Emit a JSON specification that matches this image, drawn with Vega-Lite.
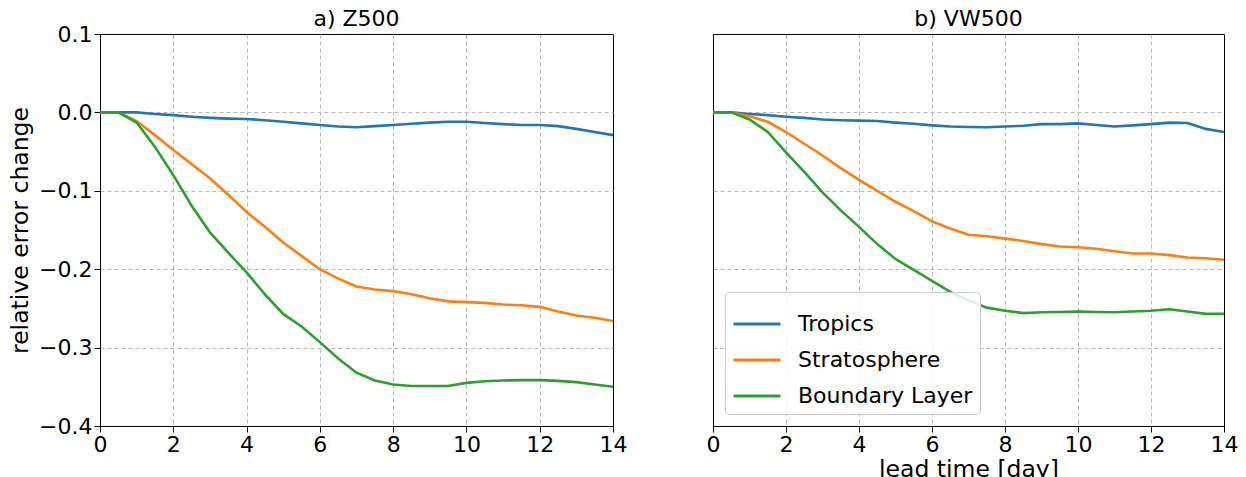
{
  "$schema": "https://vega.github.io/schema/vega-lite/v6.json",
  "padding": {"left": 8, "top": 7, "right": 5, "bottom": 0},
  "background": "white",
  "config": {
    "font": "DejaVu Sans",
    "view": {"stroke": "black", "strokeWidth": 1},
    "axis": {
      "domainColor": "black",
      "tickColor": "black",
      "tickSize": 6,
      "labelColor": "black",
      "titleColor": "black",
      "labelFontSize": 22,
      "titleFontSize": 23.5,
      "titleFontWeight": "normal",
      "gridColor": "#b0b0b0",
      "gridDash": [4, 3],
      "gridWidth": 0.9
    },
    "title": {"fontSize": 22, "fontWeight": "normal", "color": "black"},
    "concat": {"spacing": 77}
  },
  "data": {
    "values": [
      {"panel": "Z500", "series": "Tropics", "day": 0, "value": 0},
      {"panel": "Z500", "series": "Tropics", "day": 0.5, "value": 0},
      {"panel": "Z500", "series": "Tropics", "day": 1, "value": 0},
      {"panel": "Z500", "series": "Tropics", "day": 1.5, "value": -0.002},
      {"panel": "Z500", "series": "Tropics", "day": 2, "value": -0.0035},
      {"panel": "Z500", "series": "Tropics", "day": 2.5, "value": -0.0055},
      {"panel": "Z500", "series": "Tropics", "day": 3, "value": -0.007},
      {"panel": "Z500", "series": "Tropics", "day": 3.5, "value": -0.008},
      {"panel": "Z500", "series": "Tropics", "day": 4, "value": -0.0085},
      {"panel": "Z500", "series": "Tropics", "day": 4.5, "value": -0.01},
      {"panel": "Z500", "series": "Tropics", "day": 5, "value": -0.012},
      {"panel": "Z500", "series": "Tropics", "day": 5.5, "value": -0.014},
      {"panel": "Z500", "series": "Tropics", "day": 6, "value": -0.016},
      {"panel": "Z500", "series": "Tropics", "day": 6.5, "value": -0.018},
      {"panel": "Z500", "series": "Tropics", "day": 7, "value": -0.019},
      {"panel": "Z500", "series": "Tropics", "day": 7.5, "value": -0.0175},
      {"panel": "Z500", "series": "Tropics", "day": 8, "value": -0.016},
      {"panel": "Z500", "series": "Tropics", "day": 8.5, "value": -0.0145},
      {"panel": "Z500", "series": "Tropics", "day": 9, "value": -0.013},
      {"panel": "Z500", "series": "Tropics", "day": 9.5, "value": -0.012},
      {"panel": "Z500", "series": "Tropics", "day": 10, "value": -0.012},
      {"panel": "Z500", "series": "Tropics", "day": 10.5, "value": -0.0135},
      {"panel": "Z500", "series": "Tropics", "day": 11, "value": -0.015},
      {"panel": "Z500", "series": "Tropics", "day": 11.5, "value": -0.016},
      {"panel": "Z500", "series": "Tropics", "day": 12, "value": -0.016},
      {"panel": "Z500", "series": "Tropics", "day": 12.5, "value": -0.0175},
      {"panel": "Z500", "series": "Tropics", "day": 13, "value": -0.021},
      {"panel": "Z500", "series": "Tropics", "day": 13.5, "value": -0.025},
      {"panel": "Z500", "series": "Tropics", "day": 14, "value": -0.029},
      {"panel": "Z500", "series": "Stratosphere", "day": 0, "value": 0},
      {"panel": "Z500", "series": "Stratosphere", "day": 0.5, "value": 0},
      {"panel": "Z500", "series": "Stratosphere", "day": 1, "value": -0.011},
      {"panel": "Z500", "series": "Stratosphere", "day": 1.5, "value": -0.029},
      {"panel": "Z500", "series": "Stratosphere", "day": 2, "value": -0.048},
      {"panel": "Z500", "series": "Stratosphere", "day": 2.5, "value": -0.066},
      {"panel": "Z500", "series": "Stratosphere", "day": 3, "value": -0.084},
      {"panel": "Z500", "series": "Stratosphere", "day": 3.5, "value": -0.105},
      {"panel": "Z500", "series": "Stratosphere", "day": 4, "value": -0.127},
      {"panel": "Z500", "series": "Stratosphere", "day": 4.5, "value": -0.146},
      {"panel": "Z500", "series": "Stratosphere", "day": 5, "value": -0.166},
      {"panel": "Z500", "series": "Stratosphere", "day": 5.5, "value": -0.183},
      {"panel": "Z500", "series": "Stratosphere", "day": 6, "value": -0.2},
      {"panel": "Z500", "series": "Stratosphere", "day": 6.5, "value": -0.212},
      {"panel": "Z500", "series": "Stratosphere", "day": 7, "value": -0.222},
      {"panel": "Z500", "series": "Stratosphere", "day": 7.5, "value": -0.226},
      {"panel": "Z500", "series": "Stratosphere", "day": 8, "value": -0.228},
      {"panel": "Z500", "series": "Stratosphere", "day": 8.5, "value": -0.232},
      {"panel": "Z500", "series": "Stratosphere", "day": 9, "value": -0.237},
      {"panel": "Z500", "series": "Stratosphere", "day": 9.5, "value": -0.241},
      {"panel": "Z500", "series": "Stratosphere", "day": 10, "value": -0.242},
      {"panel": "Z500", "series": "Stratosphere", "day": 10.5, "value": -0.243},
      {"panel": "Z500", "series": "Stratosphere", "day": 11, "value": -0.245},
      {"panel": "Z500", "series": "Stratosphere", "day": 11.5, "value": -0.246},
      {"panel": "Z500", "series": "Stratosphere", "day": 12, "value": -0.248},
      {"panel": "Z500", "series": "Stratosphere", "day": 12.5, "value": -0.254},
      {"panel": "Z500", "series": "Stratosphere", "day": 13, "value": -0.259},
      {"panel": "Z500", "series": "Stratosphere", "day": 13.5, "value": -0.262},
      {"panel": "Z500", "series": "Stratosphere", "day": 14, "value": -0.266},
      {"panel": "Z500", "series": "Boundary Layer", "day": 0, "value": 0},
      {"panel": "Z500", "series": "Boundary Layer", "day": 0.5, "value": 0},
      {"panel": "Z500", "series": "Boundary Layer", "day": 1, "value": -0.013},
      {"panel": "Z500", "series": "Boundary Layer", "day": 1.5, "value": -0.044},
      {"panel": "Z500", "series": "Boundary Layer", "day": 2, "value": -0.08},
      {"panel": "Z500", "series": "Boundary Layer", "day": 2.5, "value": -0.119},
      {"panel": "Z500", "series": "Boundary Layer", "day": 3, "value": -0.153},
      {"panel": "Z500", "series": "Boundary Layer", "day": 3.5, "value": -0.179},
      {"panel": "Z500", "series": "Boundary Layer", "day": 4, "value": -0.204},
      {"panel": "Z500", "series": "Boundary Layer", "day": 4.5, "value": -0.232},
      {"panel": "Z500", "series": "Boundary Layer", "day": 5, "value": -0.257},
      {"panel": "Z500", "series": "Boundary Layer", "day": 5.5, "value": -0.273},
      {"panel": "Z500", "series": "Boundary Layer", "day": 6, "value": -0.293},
      {"panel": "Z500", "series": "Boundary Layer", "day": 6.5, "value": -0.314},
      {"panel": "Z500", "series": "Boundary Layer", "day": 7, "value": -0.332},
      {"panel": "Z500", "series": "Boundary Layer", "day": 7.5, "value": -0.342},
      {"panel": "Z500", "series": "Boundary Layer", "day": 8, "value": -0.347},
      {"panel": "Z500", "series": "Boundary Layer", "day": 8.5, "value": -0.349},
      {"panel": "Z500", "series": "Boundary Layer", "day": 9, "value": -0.349},
      {"panel": "Z500", "series": "Boundary Layer", "day": 9.5, "value": -0.349},
      {"panel": "Z500", "series": "Boundary Layer", "day": 10, "value": -0.345},
      {"panel": "Z500", "series": "Boundary Layer", "day": 10.5, "value": -0.343},
      {"panel": "Z500", "series": "Boundary Layer", "day": 11, "value": -0.342},
      {"panel": "Z500", "series": "Boundary Layer", "day": 11.5, "value": -0.3415},
      {"panel": "Z500", "series": "Boundary Layer", "day": 12, "value": -0.3415},
      {"panel": "Z500", "series": "Boundary Layer", "day": 12.5, "value": -0.3425},
      {"panel": "Z500", "series": "Boundary Layer", "day": 13, "value": -0.344},
      {"panel": "Z500", "series": "Boundary Layer", "day": 13.5, "value": -0.347},
      {"panel": "Z500", "series": "Boundary Layer", "day": 14, "value": -0.35},
      {"panel": "VW500", "series": "Tropics", "day": 0, "value": 0},
      {"panel": "VW500", "series": "Tropics", "day": 0.5, "value": 0},
      {"panel": "VW500", "series": "Tropics", "day": 1, "value": -0.002},
      {"panel": "VW500", "series": "Tropics", "day": 1.5, "value": -0.0035},
      {"panel": "VW500", "series": "Tropics", "day": 2, "value": -0.0055},
      {"panel": "VW500", "series": "Tropics", "day": 2.5, "value": -0.007},
      {"panel": "VW500", "series": "Tropics", "day": 3, "value": -0.009},
      {"panel": "VW500", "series": "Tropics", "day": 3.5, "value": -0.01},
      {"panel": "VW500", "series": "Tropics", "day": 4, "value": -0.0105},
      {"panel": "VW500", "series": "Tropics", "day": 4.5, "value": -0.011},
      {"panel": "VW500", "series": "Tropics", "day": 5, "value": -0.013},
      {"panel": "VW500", "series": "Tropics", "day": 5.5, "value": -0.0145},
      {"panel": "VW500", "series": "Tropics", "day": 6, "value": -0.0165},
      {"panel": "VW500", "series": "Tropics", "day": 6.5, "value": -0.018},
      {"panel": "VW500", "series": "Tropics", "day": 7, "value": -0.0187},
      {"panel": "VW500", "series": "Tropics", "day": 7.5, "value": -0.019},
      {"panel": "VW500", "series": "Tropics", "day": 8, "value": -0.018},
      {"panel": "VW500", "series": "Tropics", "day": 8.5, "value": -0.017},
      {"panel": "VW500", "series": "Tropics", "day": 9, "value": -0.015},
      {"panel": "VW500", "series": "Tropics", "day": 9.5, "value": -0.015},
      {"panel": "VW500", "series": "Tropics", "day": 10, "value": -0.014},
      {"panel": "VW500", "series": "Tropics", "day": 10.5, "value": -0.016},
      {"panel": "VW500", "series": "Tropics", "day": 11, "value": -0.018},
      {"panel": "VW500", "series": "Tropics", "day": 11.5, "value": -0.0165},
      {"panel": "VW500", "series": "Tropics", "day": 12, "value": -0.015},
      {"panel": "VW500", "series": "Tropics", "day": 12.5, "value": -0.013},
      {"panel": "VW500", "series": "Tropics", "day": 13, "value": -0.0135},
      {"panel": "VW500", "series": "Tropics", "day": 13.5, "value": -0.021},
      {"panel": "VW500", "series": "Tropics", "day": 14, "value": -0.025},
      {"panel": "VW500", "series": "Stratosphere", "day": 0, "value": 0},
      {"panel": "VW500", "series": "Stratosphere", "day": 0.5, "value": 0},
      {"panel": "VW500", "series": "Stratosphere", "day": 1, "value": -0.005},
      {"panel": "VW500", "series": "Stratosphere", "day": 1.5, "value": -0.012},
      {"panel": "VW500", "series": "Stratosphere", "day": 2, "value": -0.025},
      {"panel": "VW500", "series": "Stratosphere", "day": 2.5, "value": -0.04},
      {"panel": "VW500", "series": "Stratosphere", "day": 3, "value": -0.055},
      {"panel": "VW500", "series": "Stratosphere", "day": 3.5, "value": -0.071},
      {"panel": "VW500", "series": "Stratosphere", "day": 4, "value": -0.086},
      {"panel": "VW500", "series": "Stratosphere", "day": 4.5, "value": -0.1},
      {"panel": "VW500", "series": "Stratosphere", "day": 5, "value": -0.114},
      {"panel": "VW500", "series": "Stratosphere", "day": 5.5, "value": -0.126},
      {"panel": "VW500", "series": "Stratosphere", "day": 6, "value": -0.139},
      {"panel": "VW500", "series": "Stratosphere", "day": 6.5, "value": -0.148},
      {"panel": "VW500", "series": "Stratosphere", "day": 7, "value": -0.156},
      {"panel": "VW500", "series": "Stratosphere", "day": 7.5, "value": -0.158},
      {"panel": "VW500", "series": "Stratosphere", "day": 8, "value": -0.161},
      {"panel": "VW500", "series": "Stratosphere", "day": 8.5, "value": -0.164},
      {"panel": "VW500", "series": "Stratosphere", "day": 9, "value": -0.168},
      {"panel": "VW500", "series": "Stratosphere", "day": 9.5, "value": -0.171},
      {"panel": "VW500", "series": "Stratosphere", "day": 10, "value": -0.172},
      {"panel": "VW500", "series": "Stratosphere", "day": 10.5, "value": -0.174},
      {"panel": "VW500", "series": "Stratosphere", "day": 11, "value": -0.177},
      {"panel": "VW500", "series": "Stratosphere", "day": 11.5, "value": -0.18},
      {"panel": "VW500", "series": "Stratosphere", "day": 12, "value": -0.18},
      {"panel": "VW500", "series": "Stratosphere", "day": 12.5, "value": -0.182},
      {"panel": "VW500", "series": "Stratosphere", "day": 13, "value": -0.185},
      {"panel": "VW500", "series": "Stratosphere", "day": 13.5, "value": -0.186},
      {"panel": "VW500", "series": "Stratosphere", "day": 14, "value": -0.188},
      {"panel": "VW500", "series": "Boundary Layer", "day": 0, "value": 0},
      {"panel": "VW500", "series": "Boundary Layer", "day": 0.5, "value": 0},
      {"panel": "VW500", "series": "Boundary Layer", "day": 1, "value": -0.009},
      {"panel": "VW500", "series": "Boundary Layer", "day": 1.5, "value": -0.025},
      {"panel": "VW500", "series": "Boundary Layer", "day": 2, "value": -0.051},
      {"panel": "VW500", "series": "Boundary Layer", "day": 2.5, "value": -0.076},
      {"panel": "VW500", "series": "Boundary Layer", "day": 3, "value": -0.102},
      {"panel": "VW500", "series": "Boundary Layer", "day": 3.5, "value": -0.125},
      {"panel": "VW500", "series": "Boundary Layer", "day": 4, "value": -0.146},
      {"panel": "VW500", "series": "Boundary Layer", "day": 4.5, "value": -0.168},
      {"panel": "VW500", "series": "Boundary Layer", "day": 5, "value": -0.187},
      {"panel": "VW500", "series": "Boundary Layer", "day": 5.5, "value": -0.201},
      {"panel": "VW500", "series": "Boundary Layer", "day": 6, "value": -0.215},
      {"panel": "VW500", "series": "Boundary Layer", "day": 6.5, "value": -0.229},
      {"panel": "VW500", "series": "Boundary Layer", "day": 7, "value": -0.24},
      {"panel": "VW500", "series": "Boundary Layer", "day": 7.5, "value": -0.249},
      {"panel": "VW500", "series": "Boundary Layer", "day": 8, "value": -0.253},
      {"panel": "VW500", "series": "Boundary Layer", "day": 8.5, "value": -0.256},
      {"panel": "VW500", "series": "Boundary Layer", "day": 9, "value": -0.255},
      {"panel": "VW500", "series": "Boundary Layer", "day": 9.5, "value": -0.2545},
      {"panel": "VW500", "series": "Boundary Layer", "day": 10, "value": -0.254},
      {"panel": "VW500", "series": "Boundary Layer", "day": 10.5, "value": -0.2545},
      {"panel": "VW500", "series": "Boundary Layer", "day": 11, "value": -0.255},
      {"panel": "VW500", "series": "Boundary Layer", "day": 11.5, "value": -0.254},
      {"panel": "VW500", "series": "Boundary Layer", "day": 12, "value": -0.253},
      {"panel": "VW500", "series": "Boundary Layer", "day": 12.5, "value": -0.251},
      {"panel": "VW500", "series": "Boundary Layer", "day": 13, "value": -0.254},
      {"panel": "VW500", "series": "Boundary Layer", "day": 13.5, "value": -0.257},
      {"panel": "VW500", "series": "Boundary Layer", "day": 14, "value": -0.257}
    ]
  },
  "resolve": {"scale": {"color": "independent"}, "legend": {"color": "independent"}},
  "hconcat": [
    {
      "title": {"text": "a) Z500", "offset": -8},
      "width": 513,
      "height": 392,
      "transform": [{"filter": "datum.panel === 'Z500'"}],
      "mark": {"type": "line", "strokeWidth": 2.6, "clip": true},
      "encoding": {
        "x": {"field": "day", "type": "quantitative", "scale": {"domain": [0, 14], "nice": false},
              "axis": {"values": [0, 2, 4, 6, 8, 10, 12, 14], "title": null, "labelFlush": false, "labelPadding": 2,
                       "gridOpacity": {"condition": {"test": "datum.value === 14", "value": 0}, "value": 1}}},
        "y": {"field": "value", "type": "quantitative", "scale": {"domain": [-0.4, 0.1], "nice": false, "zero": false},
              "axis": {"values": [0.1, 0, -0.1, -0.2, -0.3, -0.4], "format": ".1f", "title": "relative error change", "titlePadding": 6, "labelFlush": false, "labelPadding": 2,
                       "gridOpacity": {"condition": {"test": "datum.value === 0.1 || datum.value === -0.4", "value": 0}, "value": 1}}},
        "color": {"field": "series", "type": "nominal",
                  "scale": {"domain": ["Tropics", "Stratosphere", "Boundary Layer"], "range": ["#1f77b4", "#ff7f0e", "#2ca02c"]},
                  "legend": null},
        "order": {"field": "day", "type": "quantitative"}
      }
    },
    {
      "title": {"text": "b) VW500", "offset": 3},
      "width": 511,
      "height": 392,
      "transform": [{"filter": "datum.panel === 'VW500'"}],
      "mark": {"type": "line", "strokeWidth": 2.6, "clip": true},
      "encoding": {
        "x": {"field": "day", "type": "quantitative", "scale": {"domain": [0, 14], "nice": false},
              "axis": {"values": [0, 2, 4, 6, 8, 10, 12, 14], "title": "lead time [day]", "labelFlush": false, "labelPadding": 2, "titlePadding": 2,
                       "gridOpacity": {"condition": {"test": "datum.value === 14 || datum.value === 0", "value": 0}, "value": 1}}},
        "y": {"field": "value", "type": "quantitative", "scale": {"domain": [-0.4, 0.1], "nice": false, "zero": false},
              "axis": {"values": [0.1, 0, -0.1, -0.2, -0.3, -0.4], "labels": false, "ticks": false, "domain": false, "title": null,
                       "gridOpacity": {"condition": {"test": "datum.value === 0.1 || datum.value === -0.4", "value": 0}, "value": 1}}},
        "color": {"field": "series", "type": "nominal",
                  "scale": {"domain": ["Tropics", "Stratosphere", "Boundary Layer"], "range": ["#1f77b4", "#ff7f0e", "#2ca02c"]},
                  "legend": {"title": null, "orient": "bottom-left", "offset": 12, "symbolType": "stroke", "symbolSize": 2200, "symbolStrokeWidth": 3,
                             "labelFontSize": 22, "labelColor": "black", "labelOffset": 16, "labelLimit": 0, "rowPadding": -3,
                             "strokeColor": "#cccccc", "fillColor": "rgba(255,255,255,0.85)", "padding": 7, "cornerRadius": 4}},
        "order": {"field": "day", "type": "quantitative"}
      }
    }
  ]
}
